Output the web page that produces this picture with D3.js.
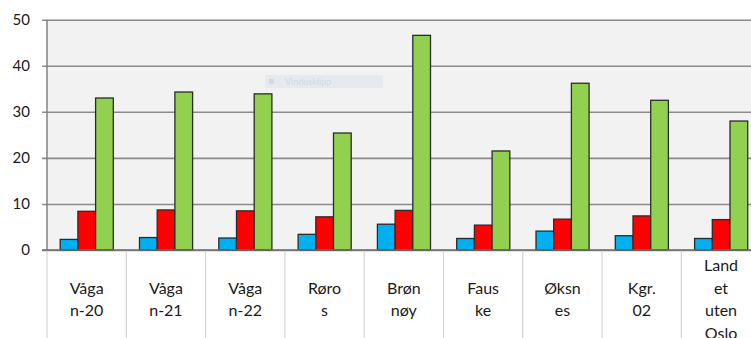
<!DOCTYPE html>
<html>
<head>
<meta charset="utf-8">
<script src="https://cdn.jsdelivr.net/npm/d3@7"></script>
<style>
  html, body { margin: 0; padding: 0; background: #ffffff; overflow: hidden; }
  svg { display: block; }
  text { font-family: Lato, "Liberation Sans", sans-serif; fill: #1a1a1a; }
</style>
</head>
<body>
<svg id="chart" width="751" height="338"></svg>
<script>
// Kommuner (labels are broken over lines as shown under the axis)
const categories = [
  ["Våga", "n-20"],
  ["Våga", "n-21"],
  ["Våga", "n-22"],
  ["Røro", "s"],
  ["Brøn", "nøy"],
  ["Faus", "ke"],
  ["Øksn", "es"],
  ["Kgr.", "02"],
  ["Land", "et", "uten", "Oslo"]
];
const seriesNames = ["Serie 1", "Serie 2", "Serie 3"];
const blueValues  = [2.3, 2.7, 2.6, 3.4, 5.6, 2.5, 4.1, 3.1, 2.5];
const redValues   = [8.4, 8.7, 8.5, 7.2, 8.6, 5.4, 6.7, 7.4, 6.6];
const greenValues = [33.0, 34.3, 33.9, 25.4, 46.6, 21.5, 36.2, 32.5, 28.0];
const yTicks = [0, 10, 20, 30, 40, 50];
const seriesColors = ["#00b0f0", "#ff0000", "#92d050"];

const svg = d3.select("#chart");
const plotLeft = 47, plotTop = 19.7, plotBottom = 250, plotRight = 751;
const catWidth = 79.3;
const keys = categories.map(c => c.join(" "));

const x = d3.scaleBand()
  .domain(keys)
  .range([plotLeft, plotLeft + catWidth * keys.length])
  .paddingInner(0).paddingOuter(0);

const x1 = d3.scaleBand()
  .domain(seriesNames)
  .range([13.2, 66.3])
  .padding(0);

const y = d3.scaleLinear().domain([0, 50]).range([plotBottom, plotTop]);

// plot background
svg.append("rect")
  .attr("x", plotLeft).attr("y", plotTop)
  .attr("width", plotRight - plotLeft).attr("height", plotBottom - plotTop)
  .attr("fill", "#f2f2f2");

// horizontal gridlines with small outside ticks
svg.append("g")
  .attr("transform", `translate(${plotLeft},0)`)
  .call(d3.axisLeft(y).tickValues(yTicks).tickSize(-(plotRight - plotLeft)).tickFormat(""))
  .call(g => g.select(".domain").remove())
  .call(g => g.selectAll(".tick line")
    .attr("x1", -5)
    .attr("stroke", "#8a8a8a").attr("stroke-width", 1.6));

// y tick labels
svg.append("g").selectAll("text")
  .data(yTicks)
  .join("text")
  .attr("x", 30)
  .attr("y", d => y(d))
  .attr("dy", "0.36em")
  .attr("text-anchor", "end")
  .attr("font-size", 15)
  .text(d => d);

// faint overlay label in the plot
const note = svg.append("g").attr("opacity", 0.55);
note.append("rect").attr("x", 265).attr("y", 75).attr("width", 118).attr("height", 13)
  .attr("fill", "#dde5ee");
note.append("rect").attr("x", 269).attr("y", 79).attr("width", 5).attr("height", 5)
  .attr("fill", "#b8c6d6");
note.append("text").attr("x", 285).attr("y", 85).attr("font-size", 9)
  .style("fill", "#b7c3d0").text("Vindusklipp");

// bars
const rows = keys.map((k, i) => ({ key: k, values: [blueValues[i], redValues[i], greenValues[i]] }));
const groups = svg.append("g").selectAll("g")
  .data(rows)
  .join("g")
  .attr("transform", d => `translate(${x(d.key)},0)`);

groups.selectAll("rect")
  .data(d => d.values.map((v, j) => ({ name: seriesNames[j], value: v, color: seriesColors[j] })))
  .join("rect")
  .attr("x", d => x1(d.name))
  .attr("y", d => y(d.value))
  .attr("width", x1.bandwidth())
  .attr("height", d => y(0) - y(d.value))
  .attr("fill", d => d.color)
  .attr("stroke", "#2b2b2b")
  .attr("stroke-width", 1.3);

// y axis line
svg.append("line")
  .attr("x1", plotLeft).attr("x2", plotLeft).attr("y1", plotTop).attr("y2", plotBottom)
  .attr("stroke", "#7a7a7a").attr("stroke-width", 1.4);

// category separators below the axis
svg.append("g").selectAll("line")
  .data(keys)
  .join("line")
  .attr("x1", d => x(d)).attr("x2", d => x(d))
  .attr("y1", plotBottom).attr("y2", 338)
  .attr("stroke", "#d4d4d4").attr("stroke-width", 1.2);

// x axis line
svg.append("line")
  .attr("x1", plotLeft - 5).attr("x2", plotRight).attr("y1", plotBottom).attr("y2", plotBottom)
  .attr("stroke", "#6e6e6e").attr("stroke-width", 1.5);

// category labels, centered vertically around a common middle
const lineH = 22.7, midBaseline = 305;
svg.append("g").selectAll("text")
  .data(categories.map((c, i) => ({ key: keys[i], lines: c })))
  .join("text")
  .attr("text-anchor", "middle")
  .attr("font-size", 16)
  .each(function (d) {
    const t = d3.select(this);
    const first = midBaseline - (d.lines.length - 1) * lineH / 2;
    d.lines.forEach((ln, k) => {
      t.append("tspan")
        .attr("x", x(d.key) + x.bandwidth() / 2)
        .attr("y", first + k * lineH)
        .text(ln);
    });
  });
</script>
</body>
</html>
